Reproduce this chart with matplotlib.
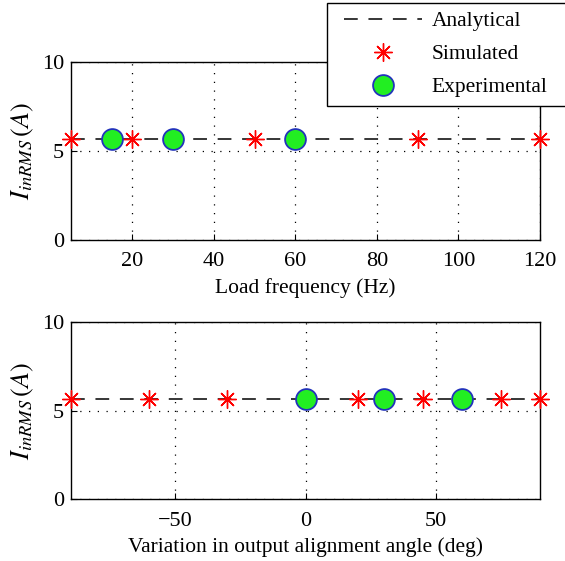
import matplotlib
matplotlib.use('Agg')
import matplotlib.pyplot as plt
from matplotlib.lines import Line2D
from matplotlib.patches import Rectangle

# load frequency sweep (Hz)
freq_sim = [5, 20, 50, 90, 120]
freq_exp = [15, 30, 60]
freq_ana = [5, 120]
i_freq_sim = [5.65, 5.65, 5.65, 5.65, 5.65]
i_freq_exp = [5.65, 5.65, 5.65]
i_freq_ana = [5.65, 5.65]

# output alignment angle sweep (deg)
ang_sim = [-90, -60, -30, 20, 45, 75, 90]
ang_exp = [0, 30, 60]
ang_ana = [-90, 90]
i_ang_sim = [5.65, 5.65, 5.65, 5.65, 5.65, 5.65, 5.65]
i_ang_exp = [5.65, 5.65, 5.65]
i_ang_ana = [5.65, 5.65]

yticks = [0, 5, 10]
freq_ticks = [20, 40, 60, 80, 100, 120]
ang_ticks = [-50, 0, 50]

plt.rcParams['font.family'] = ['Liberation Serif', 'DejaVu Serif']
plt.rcParams['mathtext.fontset'] = 'stix'
plt.rcParams['font.size'] = 15

W, H = 565, 561
fig = plt.figure(figsize=(W / 100, H / 100), dpi=100)

ast = (8, 2, 0)
sim_kw = dict(ls='none', marker=ast, ms=13, mec='red', mew=1.0, zorder=4)
exp_kw = dict(ls='none', marker='o', ms=15, mfc='#22ee22', mec='#2233bb', mew=1.3, zorder=5)
ana_kw = dict(color='black', ls=(0, (9, 7)), lw=1.1, zorder=3)


def style(ax, xlim, xticks, xlabel):
    ax.set_xlim(*xlim)
    ax.set_ylim(0, 10)
    ax.set_xticks(xticks)
    ax.set_yticks(yticks)
    ax.grid(True, color='black', ls=(0, (1, 6)), lw=0.9)
    ax.tick_params(direction='in', length=4, width=0.8, labelsize=16)
    ax.tick_params(axis='x', pad=9)
    ax.tick_params(axis='y', pad=5)
    ax.set_xlabel(xlabel, fontsize=15.5, labelpad=5)
    ax.set_ylabel(r'$I_{inRMS}\,(A)$', fontsize=19, labelpad=4)
    for sp in ax.spines.values():
        sp.set_linewidth(1.0)


ax1 = fig.add_axes([71 / W, 1 - 240 / H, 469 / W, 178 / H])
ax1.plot(freq_ana, i_freq_ana, **ana_kw)
ax1.plot(freq_sim, i_freq_sim, clip_on=False, **sim_kw)
ax1.plot(freq_exp, i_freq_exp, clip_on=False, **exp_kw)
style(ax1, (5, 120), freq_ticks, 'Load frequency (Hz)')

ax2 = fig.add_axes([71 / W, 1 - 499 / H, 469 / W, 177 / H])
ax2.plot(ang_ana, i_ang_ana, **ana_kw)
ax2.plot(ang_sim, i_ang_sim, clip_on=False, **sim_kw)
ax2.plot(ang_exp, i_ang_exp, clip_on=False, **exp_kw)
style(ax2, (-90, 90), ang_ticks, 'Variation in output alignment angle (deg)')

# legend box runs past the right edge of the figure, as in the original
box = Rectangle((327 / W, 1 - 106 / H), 250 / W, 103 / H, transform=fig.transFigure,
                facecolor='white', edgecolor='black', lw=1.0, zorder=9)
fig.add_artist(box)

handles = [
    Line2D([], [], **ana_kw),
    Line2D([], [], **sim_kw),
    Line2D([], [], **exp_kw),
]
leg = fig.legend(handles, ['Analytical', 'Simulated', 'Experimental'],
                 loc='upper left', bbox_to_anchor=(340 / W, 1 - 7 / H),
                 fontsize=15.5, frameon=False, handlelength=3.6, handletextpad=0.45,
                 borderpad=0.2, labelspacing=0.6, borderaxespad=0)
leg.set_zorder(10)

fig.savefig('out.png', dpi=100)
